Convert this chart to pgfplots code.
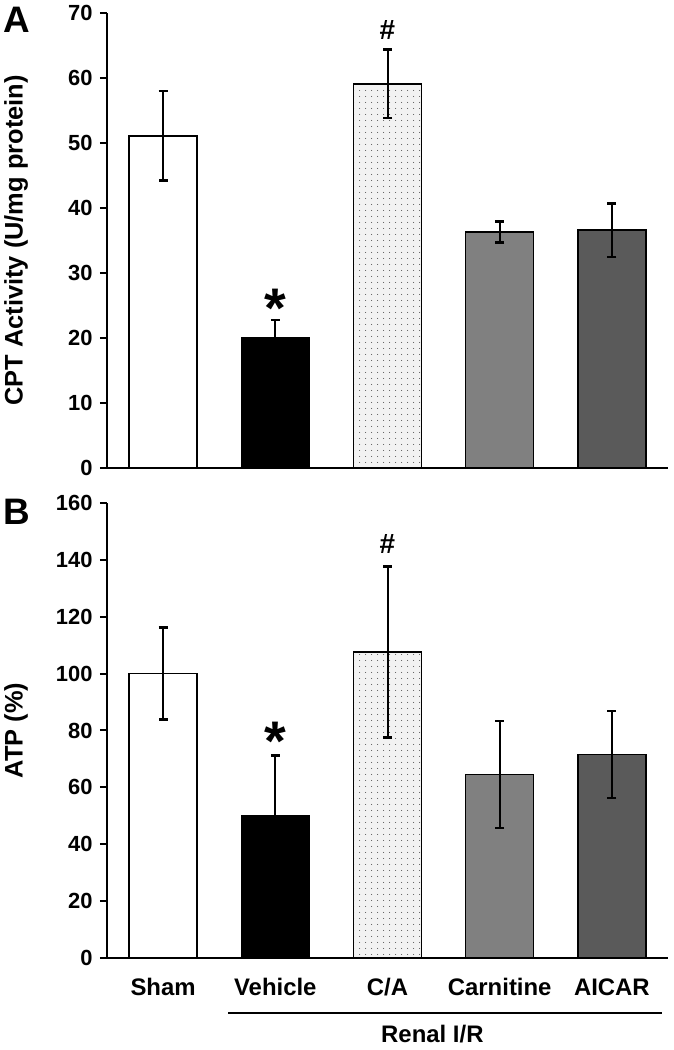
\documentclass[border=0pt]{standalone}
\usepackage{fontspec}
\setmainfont{Liberation Sans}
\usepackage{pgfplots}
\pgfplotsset{compat=1.18}
\usetikzlibrary{patterns.meta}

\definecolor{carn}{HTML}{808080}
\definecolor{aicar}{HTML}{5A5A5A}
\definecolor{cafill}{HTML}{F2F2F2}

\pgfplotsset{
 panel/.style={
   scale only axis, width=561bp, height=455bp,
   xmin=-0.5, xmax=4.5, ymin=0,
   axis x line=bottom, axis y line=left,
   axis line style={line width=2.4bp, -},
   ytick style={line width=2bp, black},
   major tick length=7bp,
   tick align=outside,
   yticklabel style={font=\bfseries\fontsize{22}{22}\selectfont, xshift=-4bp},
   /pgf/number format/assume math mode=true,
   ylabel style={font=\bfseries\fontsize{25.5}{25.5}\selectfont, at={(axis description cs:-0.162,0.5)}, anchor=center},
   clip=false,
   error bars/error bar style={line width=2bp, black},
   error bars/error mark options={rotate=90, mark size=4.5bp, line width=2.4bp, black},
 },
 bar/.style={ybar, bar width=68bp, bar shift=0pt, draw=black, line width=1.5bp,
   error bars/y dir=both, error bars/y explicit},
 dotted bar/.style={fill=cafill, postaction={pattern={Dots[distance=6bp,radius=0.6bp]}, pattern color=black!70}},
}
\tikzset{
 sigstar/.style={anchor=north, inner sep=0pt, font=\bfseries\fontsize{56}{56}\selectfont},
 sighash/.style={font=\bfseries\fontsize{28}{28}\selectfont},
}

\begin{document}
\begin{tikzpicture}
\path[use as bounding box] (0,0) rectangle (674bp,1050bp);

% Panel A
\begin{axis}[panel, at={(107bp,582bp)}, anchor=south west,
  ymax=70, ytick={0,10,...,70}, xtick=\empty,
  ylabel={CPT Activity (U/mg protein)}]
\addplot[bar, fill=white] coordinates {(0,51.1) +- (0,6.9)};
\addplot[bar, fill=black] coordinates {(1,20.1) +- (0,2.7)};
\addplot[bar, dotted bar] coordinates {(2,59.1) +- (0,5.3)};
\addplot[bar, fill=carn] coordinates {(3,36.3) +- (0,1.6)};
\addplot[bar, fill=aicar] coordinates {(4,36.6) +- (0,4.1)};
\node[sigstar] at (axis cs:1,27.6) {*};
\node[sighash] at (axis cs:2,67.4) {\#};
\end{axis}

% Panel B
\begin{axis}[panel, at={(107bp,92bp)}, anchor=south west,
  ymax=160, ytick={0,20,...,160},
  xtick={0,1,2,3,4}, xticklabels={Sham,Vehicle,C/A,Carnitine,AICAR},
  x tick style={draw=none},
  xticklabel style={font=\bfseries\fontsize{24}{24}\selectfont, anchor=north, yshift=-10bp},
  ylabel={ATP (\%)}]
\addplot[bar, fill=white] coordinates {(0,100) +- (0,16.2)};
\addplot[bar, fill=black] coordinates {(1,50) +- (0,21.2)};
\addplot[bar, dotted bar] coordinates {(2,107.6) +- (0,30.1)};
\addplot[bar, fill=carn] coordinates {(3,64.6) +- (0,18.8)};
\addplot[bar, fill=aicar] coordinates {(4,71.5) +- (0,15.3)};
\node[sigstar] at (axis cs:1,83) {*};
\node[sighash] at (axis cs:2,145.5) {\#};
\draw[line width=1.5bp] (axis cs:0.58,-19.4) -- (axis cs:4.45,-19.4);
\node[font=\bfseries\fontsize{24}{24}\selectfont] at (axis cs:2.4,-26.8) {Renal I/R};
\end{axis}

\node[font=\bfseries\fontsize{37}{37}\selectfont] at (17bp,1030bp) {A};
\node[font=\bfseries\fontsize{37}{37}\selectfont] at (17bp,538bp) {B};
\end{tikzpicture}
\end{document}
